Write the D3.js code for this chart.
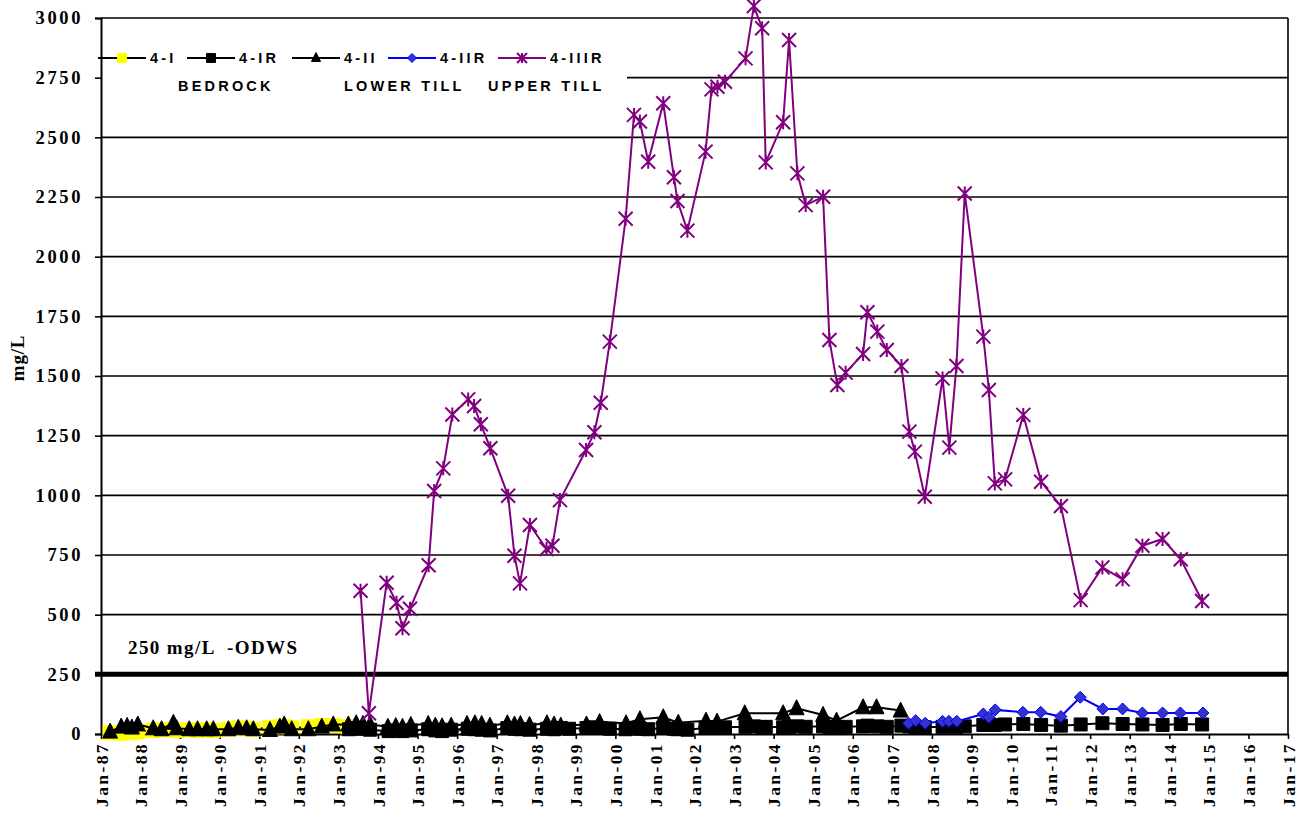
<!DOCTYPE html>
<html><head><meta charset="utf-8">
<script src="https://cdn.jsdelivr.net/npm/d3@7"></script>
<style>body{margin:0;background:#fff}svg{display:block}</style>
</head><body><svg id="c" width="1306" height="825"></svg>
<script>
// ---- data ----
const yTickValues = [0,250,500,750,1000,1250,1500,1750,2000,2250,2500,2750,3000];
const xTickYears = [1987,1988,1989,1990,1991,1992,1993,1994,1995,1996,1997,1998,1999,2000,2001,2002,2003,2004,2005,2006,2007,2008,2009,2010,2011,2012,2013,2014,2015,2016,2017];
const odws = 250;

const s4I_dates = [1987.23,1987.51,1987.66,1987.78,1987.93,1988.32,1988.53,1988.83,1988.91,1989.23,1989.44,1989.67,1989.84,1990.22,1990.47,1990.68,1990.85,1991.27,1991.52,1991.63,1991.82,1992.24,1992.58,1992.87,1993.25];
const s4I_vals  = [5,3,8,5,10,15,18,20,15,18,15,18,15,20,25,22,20,28,30,32,25,30,35,35,30];

const s4IR_dates = [1993.27,1993.45,1993.62,1993.8,1994.27,1994.45,1994.62,1994.83,1995.27,1995.45,1995.62,1995.85,1996.27,1996.45,1996.62,1996.83,1997.27,1997.45,1997.6,1997.83,1998.27,1998.45,1998.62,1998.83,1999.27,1999.47,1999.63,1999.86,2000.26,2000.47,2000.62,2000.83,2001.21,2001.48,2001.57,2001.82,2002.28,2002.43,2002.58,2002.77,2003.29,2003.5,2003.71,2003.8,2004.24,2004.39,2004.6,2004.81,2005.25,2005.41,2005.61,2005.82,2006.26,2006.37,2006.62,2006.86,2007.23,2007.43,2007.57,2007.82,2008.27,2008.44,2008.62,2008.83,2009.3,2009.44,2009.59,2009.85,2010.31,2010.76,2011.26,2011.76,2012.31,2012.82,2013.32,2013.83,2014.29,2014.83];
const s4IR_vals  = [20,25,22,18,12,15,12,15,20,15,12,18,22,20,18,15,25,22,20,18,22,20,25,22,25,28,25,22,20,25,22,20,25,22,20,18,25,28,25,28,30,32,28,30,28,30,32,30,32,30,28,30,32,35,32,30,35,32,30,28,30,32,30,32,38,40,38,40,42,38,35,40,45,42,40,38,42,40];

const s4II_dates = [1987.23,1987.51,1987.66,1987.78,1987.93,1988.32,1988.53,1988.83,1988.91,1989.23,1989.44,1989.67,1989.84,1990.22,1990.47,1990.68,1990.85,1991.27,1991.52,1991.63,1991.82,1992.24,1992.58,1992.87,1993.25,1993.45,1993.62,1993.8,1994.25,1994.45,1994.62,1994.83,1995.27,1995.45,1995.62,1995.85,1996.25,1996.45,1996.62,1996.83,1997.27,1997.45,1997.6,1997.83,1998.27,1998.45,1998.62,1999.27,1999.6,2000.27,2000.62,2001.21,2001.59,2002.29,2002.57,2003.27,2004.24,2004.58,2005.25,2005.59,2006.26,2006.6,2007.21];
const s4II_vals  = [10,31,34,27,40,24,20,47,24,20,20,20,20,20,26,24,20,17,31,40,20,20,31,40,40,45,42,40,30,33,30,38,42,35,32,35,42,45,42,35,45,40,42,38,45,40,35,40,50,45,62,70,47,56,52,87,87,108,80,56,112,112,98];

const s4IIR_dates = [2007.41,2007.59,2007.83,2008.27,2008.43,2008.63,2009.3,2009.44,2009.6,2010.3,2010.75,2011.26,2011.75,2012.32,2012.82,2013.32,2013.83,2014.28,2014.85];
const s4IIR_vals  = [45,56,45,53,53,53,84,70,101,91,91,73,154,105,105,88,88,88,88];

const s4IIIR_dates = [1993.56,1993.77,1994.22,1994.47,1994.62,1994.81,1995.28,1995.42,1995.65,1995.88,1996.28,1996.43,1996.6,1996.84,1997.29,1997.45,1997.59,1997.84,1998.26,1998.41,1998.6,1999.26,1999.47,1999.63,1999.86,2000.26,2000.47,2000.62,2000.83,2001.21,2001.48,2001.57,2001.82,2002.28,2002.43,2002.58,2002.77,2003.29,2003.5,2003.71,2003.8,2004.24,2004.39,2004.6,2004.81,2005.25,2005.41,2005.61,2005.82,2006.26,2006.37,2006.62,2006.86,2007.23,2007.43,2007.57,2007.82,2008.27,2008.44,2008.62,2008.83,2009.3,2009.44,2009.59,2009.85,2010.31,2010.76,2011.26,2011.76,2012.31,2012.82,2013.32,2013.83,2014.29,2014.83];
const s4IIIR_vals  = [600,87,634,550,443,525,707,1018,1113,1339,1402,1374,1298,1197,998,747,631,876,775,789,980,1190,1264,1388,1644,2159,2594,2566,2398,2643,2333,2233,2109,2440,2701,2712,2733,2831,3050,2957,2395,2563,2908,2349,2216,2251,1651,1462,1514,1592,1767,1686,1609,1542,1267,1183,994,1490,1200,1542,2265,1665,1441,1050,1067,1337,1057,955,561,698,648,789,817,732,557];

const seriesNames = ["4-I","4-IR","4-II","4-IIR","4-IIIR"];
const groupLabels = ["BEDROCK","LOWER TILL","UPPER TILL"];

// ---- build ----
const zip = (d,v)=>d.map((x,i)=>({x, y:v[i]}));
const series = [
  {name:"4-I",   pts:zip(s4I_dates,s4I_vals),     line:"#000", marker:"square",  fill:"#ffff00", stroke:"#ffff00", size:14},
  {name:"4-IR",  pts:zip(s4IR_dates,s4IR_vals),   line:"#000", marker:"square",  fill:"#000", stroke:"#000", size:13},
  {name:"4-II",  pts:zip(s4II_dates,s4II_vals),   line:"#000", marker:"triangle",fill:"#000", stroke:"#000", size:15},
  {name:"4-IIR", pts:zip(s4IIR_dates,s4IIR_vals), line:"#0000ff", marker:"diamond", fill:"#3333cc", stroke:"#0000ff", size:12},
  {name:"4-IIIR",pts:zip(s4IIIR_dates,s4IIIR_vals),line:"#800080", marker:"star", fill:"none", stroke:"#800080", size:14}
];

const L=101, R=1288, T=18, B=734;
const x = d3.scaleLinear().domain([1987,2017]).range([L,R]);
const y = d3.scaleLinear().domain([0,3000]).range([B,T]);
const svg = d3.select("#c");
const serif = "'Liberation Serif','Times New Roman',serif";
const sans = "'Liberation Sans',Arial,sans-serif";

function markerPath(type,s){
  const h=s/2;
  if(type==="square") return `M${-h},${-h}h${s}v${s}h${-s}Z`;
  if(type==="triangle") return `M0,${-h-1}L${h},${h-1}L${-h},${h-1}Z`;
  if(type==="diamond") return `M0,${-h}L${h},0L0,${h}L${-h},0Z`;
  if(type==="star") return `M${-h},${-h}L${h},${h}M${h},${-h}L${-h},${h}M0,${-h}L0,${h}`;
}

// gridlines
svg.append("g").selectAll("line").data(yTickValues.filter(v=>v>0 && v!==odws)).join("line")
  .attr("x1",L).attr("x2",R).attr("y1",d=>y(d)).attr("y2",d=>y(d))
  .attr("stroke","#000").attr("stroke-width",1.6);
// ODWS line
svg.append("line").attr("x1",L-6).attr("x2",R).attr("y1",y(odws)).attr("y2",y(odws))
  .attr("stroke","#000").attr("stroke-width",5);
// right border
svg.append("line").attr("x1",R).attr("x2",R).attr("y1",T).attr("y2",B).attr("stroke","#000").attr("stroke-width",1.6);

// legend box (white, hides part of grid)
svg.append("rect").attr("x",L+1).attr("y",T+2).attr("width",525).attr("height",80).attr("fill","#fff");

// axes
const yAxis = svg.append("g").attr("transform",`translate(${L},0)`)
  .call(d3.axisLeft(y).tickValues(yTickValues).tickSize(6).tickPadding(12).tickFormat(d3.format("d")));
yAxis.select(".domain").attr("stroke","#000").attr("stroke-width",2);
yAxis.selectAll(".tick line").attr("stroke-width",1.6);
yAxis.selectAll("text").attr("font-family",serif)
  .attr("font-weight","bold").attr("font-size",18.5).attr("letter-spacing",2.6).attr("fill","#000");

const xAxis = svg.append("g").attr("transform",`translate(0,${B})`)
  .call(d3.axisBottom(x).tickValues(xTickYears).tickSize(5).tickSizeOuter(0)
    .tickFormat(d=>"Jan-"+String(d%100).padStart(2,"0")));
xAxis.select(".domain").attr("stroke","#000").attr("stroke-width",2);
xAxis.selectAll(".tick line").attr("stroke-width",1.6);
xAxis.selectAll("text").attr("font-family",serif)
  .attr("font-weight","bold").attr("font-size",17.5).attr("letter-spacing",2.4).attr("fill","#000")
  .attr("transform","rotate(-90)").attr("text-anchor","end").attr("dy","0.35em").attr("x",-8).attr("y",0);

// y title
svg.append("text").attr("transform",`translate(24,358) rotate(-90)`).attr("text-anchor","middle")
  .attr("font-family",serif).attr("font-weight","bold").attr("font-size",19).attr("letter-spacing",0.8)
  .text("mg/L");

// ODWS label
svg.append("text").attr("x",128).attr("y",654)
  .attr("font-family",serif).attr("font-weight","bold").attr("font-size",19).attr("letter-spacing",1.4)
  .attr("xml:space","preserve").style("white-space","pre").text("250 mg/L  -ODWS");

// series
const lineGen = d3.line().x(d=>x(d.x)).y(d=>y(d.y));
series.forEach(s=>{
  const g = svg.append("g");
  g.append("path").attr("d",lineGen(s.pts)).attr("fill","none").attr("stroke",s.line).attr("stroke-width",2);
  g.selectAll("path.m").data(s.pts).join("path").attr("class","m")
    .attr("transform",d=>`translate(${x(d.x)},${y(d.y)})`)
    .attr("d",markerPath(s.marker,s.size))
    .attr("fill",s.fill).attr("stroke",s.stroke).attr("stroke-width",s.marker==="star"?2:1);
});

// legend
const legX = [98,187,292,388,498];
const lg = svg.append("g");
series.forEach((s,i)=>{
  const x0=legX[i], yy=58;
  lg.append("line").attr("x1",x0).attr("x2",x0+48).attr("y1",yy).attr("y2",yy).attr("stroke",s.line).attr("stroke-width",2);
  lg.append("path").attr("transform",`translate(${x0+24},${yy})`).attr("d",markerPath(s.marker,s.marker==="star"?10:9))
    .attr("fill",s.fill).attr("stroke",s.stroke).attr("stroke-width",s.marker==="star"?2:1);
  lg.append("text").attr("x",x0+52).attr("y",yy).attr("dy","0.35em")
    .attr("font-family",sans).attr("font-weight","bold").attr("font-size",14.5)
    .attr("letter-spacing",3.2).text(seriesNames[i]);
});
const grpX=[178,344,488];
groupLabels.forEach((t,i)=>{
  lg.append("text").attr("x",grpX[i]).attr("y",86).attr("dy","0.35em")
    .attr("font-family",sans).attr("font-weight","bold").attr("font-size",14.5)
    .attr("letter-spacing",3.2).text(t);
});
</script>
</body></html>
